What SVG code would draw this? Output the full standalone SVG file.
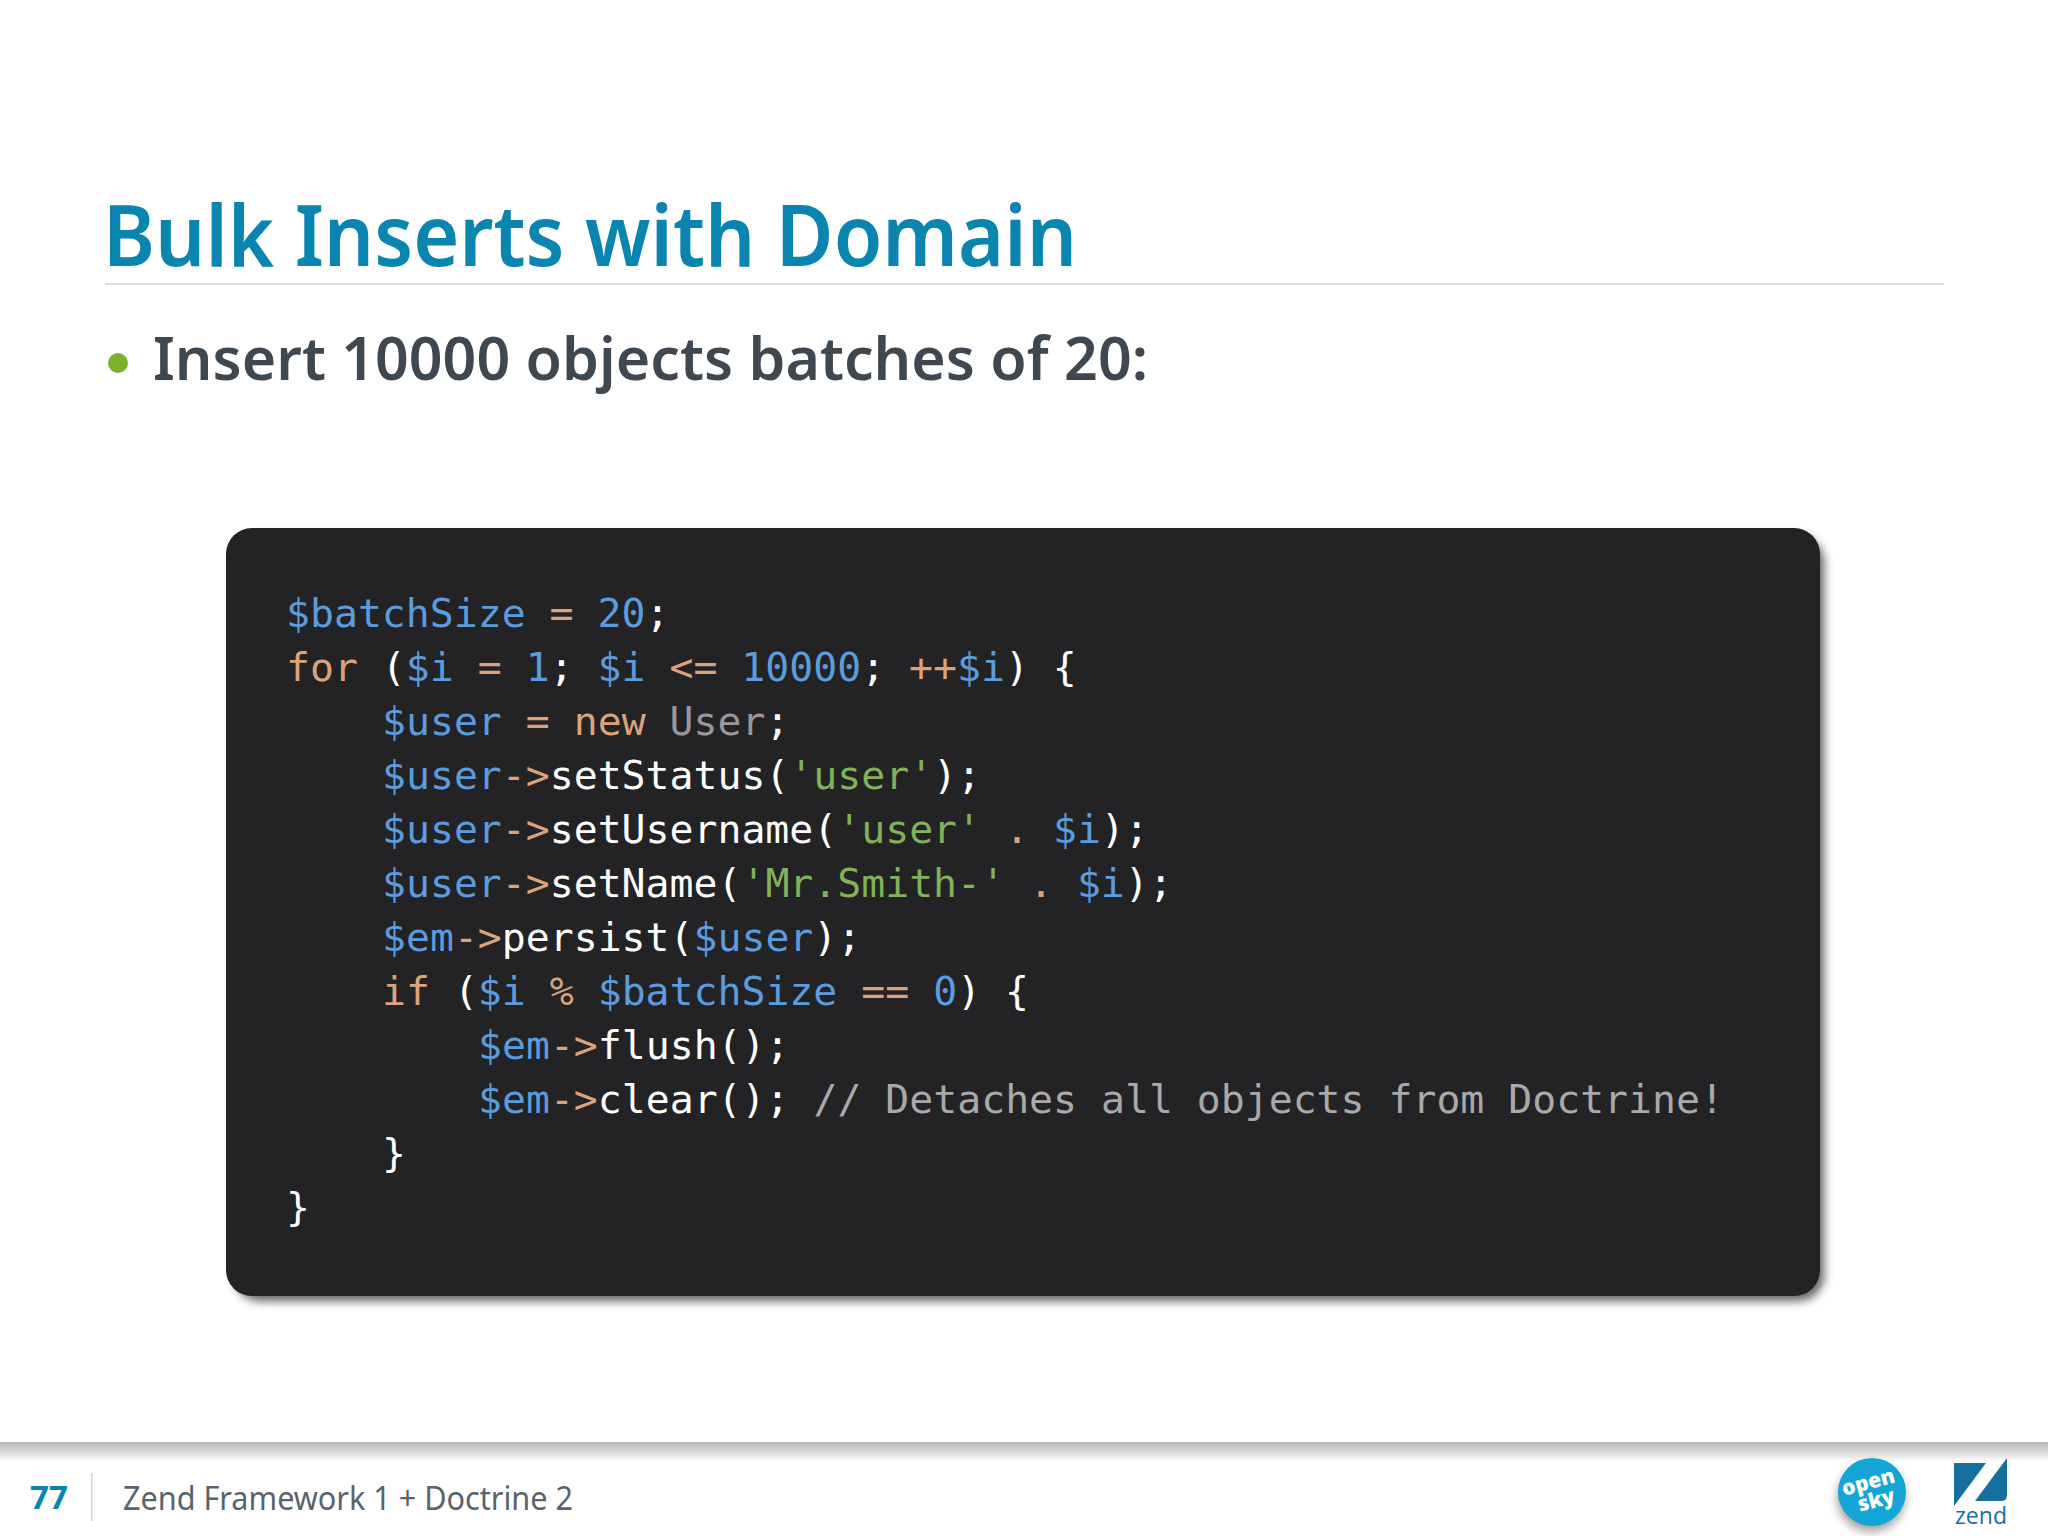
<svg xmlns="http://www.w3.org/2000/svg" width="2048" height="1536" viewBox="0 0 2048 1536">
<defs>
<style>
.c{font-family:"DejaVu Sans Mono","Liberation Mono",monospace;font-size:39.8px;fill:#fff;white-space:pre}
.b{fill:#5c9bdc}.o{fill:#dca27a}.g{fill:#80b25a}.u{fill:#9a979c}.m{fill:#a9a9a9}
.s{font-family:"Noto Sans","Open Sans",sans-serif}
</style>
<filter id="sh" x="-5%" y="-5%" width="110%" height="110%"><feGaussianBlur stdDeviation="5"/></filter>
<filter id="sh2" x="-30%" y="-30%" width="160%" height="160%"><feGaussianBlur stdDeviation="5"/></filter>
<linearGradient id="fg" x1="0" y1="0" x2="0" y2="1"><stop offset="0" stop-color="#b5b5b3"/><stop offset="1" stop-color="#fff"/></linearGradient>
</defs>
<rect width="2048" height="1536" fill="#fff"/>
<g id="header">
<text class="s" x="103" y="266" font-size="85" font-weight="600" fill="#0a85b0" textLength="974" lengthAdjust="spacingAndGlyphs">Bulk Inserts with Domain</text>
<rect x="105" y="283" width="1839" height="2" fill="#d3e0e6"/>
<circle cx="118" cy="363" r="10" fill="#7cb02c"/>
<text class="s" x="153" y="380" font-size="60" font-weight="600" fill="#3f4850" textLength="995" lengthAdjust="spacingAndGlyphs">Insert 10000 objects batches of 20:</text>
</g>
<g id="code">
<rect x="234" y="536" width="1590" height="765" rx="26" fill="#444" opacity=".85" filter="url(#sh)"/>
<rect x="226" y="528" width="1594" height="768" rx="26" fill="#232326"/>
<text class="c" y="627" x="286"><tspan class="b">$batchSize</tspan> <tspan class="o">=</tspan> <tspan class="b">20</tspan>;</text>
<text class="c" y="681" x="286"><tspan class="o">for</tspan> (<tspan class="b">$i</tspan> <tspan class="o">=</tspan> <tspan class="b">1</tspan>; <tspan class="b">$i</tspan> <tspan class="o">&lt;=</tspan> <tspan class="b">10000</tspan>; <tspan class="o">++</tspan><tspan class="b">$i</tspan>) {</text>
<text class="c" y="735" x="382"><tspan class="b">$user</tspan> <tspan class="o">=</tspan> <tspan class="o">new</tspan> <tspan class="u">User</tspan>;</text>
<text class="c" y="789" x="382"><tspan class="b">$user</tspan><tspan class="o">-&gt;</tspan>setStatus(<tspan class="g">'user'</tspan>);</text>
<text class="c" y="843" x="382"><tspan class="b">$user</tspan><tspan class="o">-&gt;</tspan>setUsername(<tspan class="g">'user'</tspan> <tspan class="o">.</tspan> <tspan class="b">$i</tspan>);</text>
<text class="c" y="897" x="382"><tspan class="b">$user</tspan><tspan class="o">-&gt;</tspan>setName(<tspan class="g">'Mr.Smith-'</tspan> <tspan class="o">.</tspan> <tspan class="b">$i</tspan>);</text>
<text class="c" y="951" x="382"><tspan class="b">$em</tspan><tspan class="o">-&gt;</tspan>persist(<tspan class="b">$user</tspan>);</text>
<text class="c" y="1005" x="382"><tspan class="o">if</tspan> (<tspan class="b">$i</tspan> <tspan class="o">%</tspan> <tspan class="b">$batchSize</tspan> <tspan class="o">==</tspan> <tspan class="b">0</tspan>) {</text>
<text class="c" y="1059" x="478"><tspan class="b">$em</tspan><tspan class="o">-&gt;</tspan>flush();</text>
<text class="c" y="1113" x="478"><tspan class="b">$em</tspan><tspan class="o">-&gt;</tspan>clear(); <tspan class="m">// Detaches all objects from Doctrine!</tspan></text>
<text class="c" y="1167" x="382">}</text>
<text class="c" y="1221" x="286">}</text>
</g>
<g id="footer">
<rect x="0" y="1442" width="2048" height="20" fill="url(#fg)"/>
<text class="s" x="30" y="1509" font-size="33" font-weight="700" fill="#0a85b0">77</text>
<rect x="91" y="1473" width="1.500" height="48" fill="#c4d8e6"/>
<text class="s" x="123" y="1510" font-size="33" fill="#59636d" textLength="450" lengthAdjust="spacingAndGlyphs">Zend Framework 1 + Doctrine 2</text>
</g>
<g id="logo-opensky">
<circle cx="1871" cy="1498" r="34" fill="#666" opacity=".6" filter="url(#sh2)"/>
<circle cx="1872" cy="1492" r="34" fill="#12a5d6"/>
<g font-family="'Open Sans','Noto Sans',sans-serif" font-weight="800" fill="#fff" text-anchor="middle" font-size="21">
<text transform="translate(1870 1489) rotate(-15)">open</text>
<text transform="translate(1878 1507) rotate(-15)">sky</text>
</g>
</g>
<g id="logo-zend" fill="#156f9f">
<path d="M1954 1463H1986L1954 1506Z"/>
<path d="M2007 1458V1495Q2007 1501 2001 1501H1975Z"/>
<text x="1955" y="1524" font-family="'Open Sans','Noto Sans',sans-serif" font-size="23" textLength="52" lengthAdjust="spacingAndGlyphs">zend</text>
</g>
</svg>
